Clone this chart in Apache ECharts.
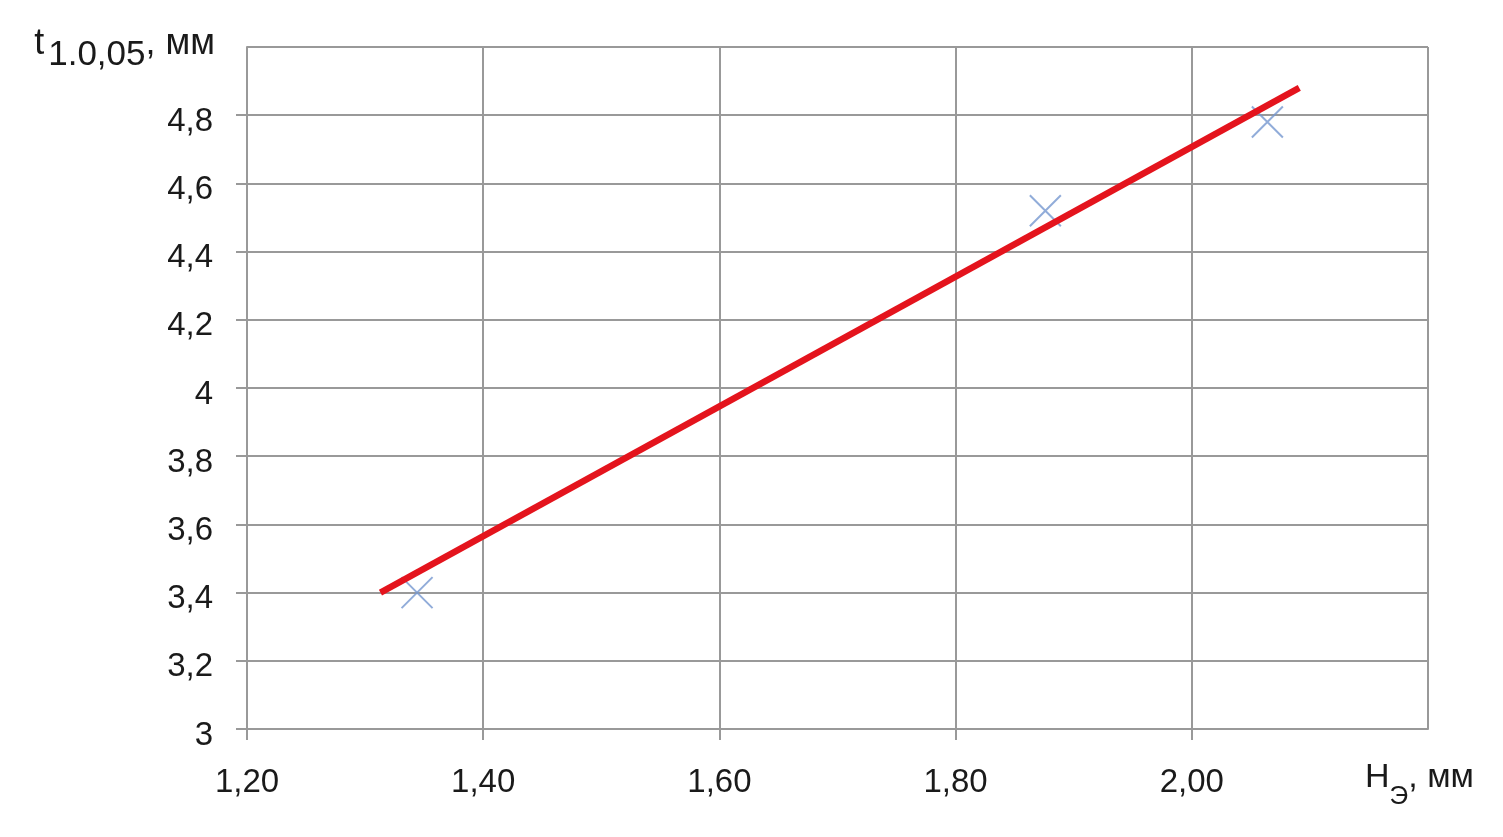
<!DOCTYPE html>
<html>
<head>
<meta charset="utf-8">
<script src="https://cdn.jsdelivr.net/npm/echarts@6/dist/echarts.min.js"></script>
<style>html,body{margin:0;padding:0;background:#fff}#c{width:1503px;height:837px}</style>
</head>
<body>
<div id="c"></div>
<script>
// Measured points (Hэ, t)
const pointX = [1.344, 1.876, 2.064];
const pointY = [3.40, 4.52, 4.78];
// Trend line end points
const trendX = [1.313, 2.091];
const trendY = [3.40, 4.88];
const xName = ['Н', 'Э', ', мм'];
const yName = ['t', '1.0,05', ', мм'];

const chart = echarts.init(document.getElementById('c'));
const gridColor = '#999999';
const fontFam = '"Liberation Sans", Arial, sans-serif';
const txt = '#1a1a1a';
chart.setOption({
  animation: false,
  grid: {left: 247, right: 75, top: 47, bottom: 108},
  xAxis: {
    type: 'value', min: 1.2, max: 2.2, interval: 0.2,
    name: '{a|' + xName[0] + '}{s|' + xName[1] + '}{a|' + xName[2] + '}',
    nameLocation: 'end', nameGap: -63,
    nameTextStyle: {
      align: 'left', verticalAlign: 'top', padding: [32, 0, 0, 0],
      rich: {
        a: {fontSize: 34, fontFamily: fontFam, color: txt, verticalAlign: 'top'},
        s: {fontSize: 26, fontFamily: fontFam, color: txt, lineHeight: 49, verticalAlign: 'bottom'}
      }
    },
    axisLine: {lineStyle: {color: gridColor, width: 2}},
    axisTick: {show: true, inside: false, length: 11, lineStyle: {color: gridColor, width: 2}},
    splitLine: {show: true, lineStyle: {color: gridColor, width: 2}},
    axisLabel: {
      fontSize: 33, fontFamily: fontFam, color: txt, margin: 37, showMaxLabel: false,
      formatter: v => v >= 2.19 ? '' : v.toFixed(2).replace('.', ',')
    }
  },
  yAxis: {
    type: 'value', min: 3, max: 5, interval: 0.2,
    name: '{t|' + yName[0] + '}{s|' + yName[1] + '}{a|' + yName[2] + '}',
    nameLocation: 'end', nameGap: 0,
    nameTextStyle: {
      align: 'right', verticalAlign: 'middle', padding: [5, 32, 0, 0],
      rich: {
        t: {fontSize: 36, fontFamily: fontFam, color: txt, verticalAlign: 'top', padding: [0, 4, 0, 0]},
        s: {fontSize: 35, fontFamily: fontFam, color: txt, lineHeight: 46, verticalAlign: 'bottom'},
        a: {fontSize: 36, fontFamily: fontFam, color: txt, verticalAlign: 'top'}
      }
    },
    axisLine: {show: true, lineStyle: {color: gridColor, width: 2}},
    axisTick: {show: true, inside: false, length: 11, lineStyle: {color: gridColor, width: 2}},
    splitLine: {show: true, lineStyle: {color: gridColor, width: 2}},
    axisLabel: {
      margin: 34, showMaxLabel: false,
      formatter: v => {
        const r = Math.round(v * 10) / 10;
        if (r >= 5) return '';
        return '{v|' + (Number.isInteger(r) ? String(r) : r.toFixed(1).replace('.', ',')) + '}';
      },
      rich: {
        v: {fontSize: 33, fontFamily: fontFam, color: txt, lineHeight: 46, verticalAlign: 'bottom'}
      }
    }
  },
  series: [
    {
      type: 'scatter',
      data: pointX.map((x, i) => [x, pointY[i]]),
      symbol: 'path://M0,0 L10,10 M10,0 L0,10',
      symbolSize: 31,
      itemStyle: {color: 'transparent', borderColor: '#7597cf', borderWidth: 2},
      z: 2
    },
    {
      type: 'line',
      data: trendX.map((x, i) => [x, trendY[i]]),
      showSymbol: false, symbol: 'none',
      lineStyle: {color: '#e4141d', width: 6.5},
      z: 3
    }
  ]
});
</script>
</body>
</html>
